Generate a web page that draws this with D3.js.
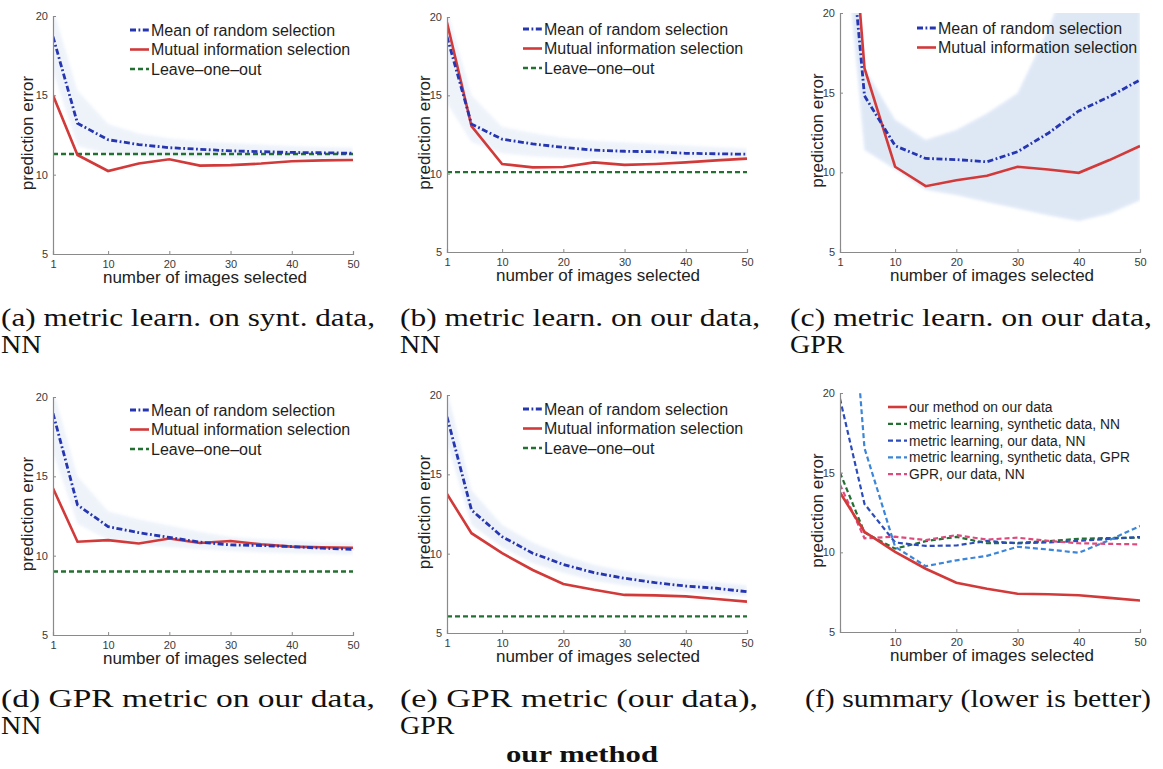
<!doctype html>
<html lang="en">
<head>
<meta charset="UTF-8">
<title>prediction error vs number of images selected</title>
<style>
    body { margin: 0; background: #fff; }
    svg { display: block; }
</style>
</head>
<body>
<div class="canvas"></div>
<script src="https://d3js.org/d3.v7.min.js"></script>
<script>
    // number of selected images, shared by every panel
    const xs = [1, 5, 10, 15, 20, 25, 30, 35, 40, 45, 50];
    const yTicks = [5, 10, 15, 20];

    // (a) metric learning on synthetic data, NN
    const aMean = [18.7, 13.24, 12.2, 11.9, 11.7, 11.6, 11.5, 11.45, 11.4, 11.38, 11.35];
    const aMI   = [15.0, 11.24, 10.23, 10.7, 10.97, 10.57, 10.6, 10.7, 10.85, 10.9, 10.92];
    const aLow  = [16.5, 11.8, 11.3, 11.2, 11.1, 11.05, 11.0, 11.0, 11.0, 11.0, 11.0];
    const aHigh = [20.5, 15.3, 13.2, 12.6, 12.3, 12.1, 12.0, 11.9, 11.8, 11.75, 11.7];
    const aLOO  = 11.3;

    // (b) metric learning on our data, NN
    const bMean = [18.74, 13.17, 12.2, 11.9, 11.68, 11.5, 11.43, 11.4, 11.3, 11.27, 11.24];
    const bMI   = [19.64, 13.04, 10.62, 10.4, 10.43, 10.72, 10.56, 10.62, 10.72, 10.85, 10.96];
    const bLow  = [14.5, 12.0, 11.3, 11.1, 11.0, 10.95, 10.9, 10.9, 10.9, 10.9, 10.9];
    const bHigh = [20.5, 15.0, 13.0, 12.6, 12.3, 12.1, 12.0, 11.9, 11.8, 11.7, 11.6];
    const bLOO  = 10.1;

    // (c) metric learning on our data, GPR
    const cMean = [31.6, 14.8, 11.67, 10.87, 10.8, 10.66, 11.29, 12.45, 13.85, 14.75, 15.8];
    const cMI   = [36, 16.54, 10.35, 9.13, 9.5, 9.78, 10.35, 10.18, 9.97, 10.77, 11.65];
    const cLow  = [28, 11.4, 10.2, 8.9, 8.57, 8.14, 7.73, 7.31, 6.95, 7.42, 8.25];
    const cHigh = [40, 16.5, 13.3, 12.03, 12.66, 13.7, 14.96, 18.95, 24, 26, 26];

    // (d) GPR metric on our data, NN
    const dMean = [18.97, 13.2, 11.83, 11.45, 11.15, 10.85, 10.68, 10.64, 10.57, 10.47, 10.4];
    const dMI   = [14.25, 10.88, 10.98, 10.77, 11.08, 10.8, 10.92, 10.72, 10.57, 10.53, 10.5];
    const dLow  = [16.5, 12.0, 11.0, 10.7, 10.55, 10.4, 10.3, 10.2, 10.15, 10.1, 10.05];
    const dHigh = [20.5, 15.0, 12.8, 12.3, 11.9, 11.5, 11.2, 11.05, 10.95, 10.85, 10.8];
    const dLOO  = 9.0;

    // (e) GPR metric (our data), GPR
    const eMean = [18.63, 12.75, 11.07, 10.03, 9.32, 8.8, 8.45, 8.17, 7.96, 7.82, 7.6];
    const eMI   = [13.76, 11.29, 10.03, 8.97, 8.09, 7.72, 7.4, 7.37, 7.31, 7.14, 6.98];
    const eLow  = [17, 11.8, 10.4, 9.4, 8.8, 8.3, 8.0, 7.75, 7.6, 7.45, 7.3];
    const eHigh = [20.3, 14.0, 11.8, 10.7, 9.9, 9.3, 8.9, 8.6, 8.35, 8.2, 8.0];
    const eLOO  = 6.05;

    const legendTop = ['Mean of random selection', 'Mutual information selection', 'Leave\u2013one\u2013out'];
    const legendSummary = [
        'our method on our data',
        'metric learning, synthetic data, NN',
        'metric learning, our data, NN',
        'metric learning, synthetic data, GPR',
        'GPR, our data, NN'
    ];

    const captions = [
        { lines: ['(a) metric learn. on synt. data,', 'NN'], x: 1, y: 326, w: 374 },
        { lines: ['(b) metric learn.  on our data,', 'NN'], x: 400, y: 326, w: 360 },
        { lines: ['(c) metric learn.  on our data,', 'GPR'], x: 790, y: 326, w: 362 },
        { lines: ['(d) GPR metric on our data,', 'NN'], x: 1, y: 707, w: 374 },
        { lines: ['(e) GPR metric (our data),', 'GPR'], x: 400, y: 707, w: 358 },
        { lines: ['(f) summary (lower is better)'], x: 805, y: 707, w: 346 }
    ];
    const groupTitle = 'our method';

    const RED = '#d23a3a', BLUE = '#2636b0', GREEN = '#237032';
    const SUM_BLUE = '#2c4cbc', SUM_LIGHT = '#3b86d8', SUM_PINK = '#de4a7c';
    const DASHDOT = '6,2.5,1.8,2.5';
    const DASH = '5,3';

    const svg = d3.select('.canvas').append('svg')
        .attr('width', 1163)
        .attr('height', 769);

    const defs = svg.append('defs');
    defs.append('filter').attr('id', 'soft')
        .append('feGaussianBlur').attr('stdDeviation', 1.8);

    const panels = [
        { id: 'a', left: 53, right: 353, top: 16, bottom: 254, mean: aMean, mi: aMI, low: aLow, high: aHigh, loo: aLOO,
          legend: { x: 130, y: 30, dy: 19.5 }, ylab: 28, xlab: 205, bandOpacity: 0.3 },
        { id: 'b', left: 447, right: 747, top: 17, bottom: 252, mean: bMean, mi: bMI, low: bLow, high: bHigh, loo: bLOO,
          legend: { x: 523, y: 29, dy: 19.5 }, ylab: 425, xlab: 598, bandOpacity: 0.3 },
        { id: 'c', left: 840, right: 1140, top: 13, bottom: 252, mean: cMean, mi: cMI, low: cLow, high: cHigh, loo: null,
          legend: { x: 917, y: 28, dy: 19.5 }, ylab: 818, xlab: 992, bandOpacity: 0.6 },
        { id: 'd', left: 53, right: 353, top: 397, bottom: 635, mean: dMean, mi: dMI, low: dLow, high: dHigh, loo: dLOO,
          legend: { x: 130, y: 410, dy: 19.5 }, ylab: 28, xlab: 205, bandOpacity: 0.3 },
        { id: 'e', left: 447, right: 747, top: 395, bottom: 633, mean: eMean, mi: eMI, low: eLow, high: eHigh, loo: eLOO,
          legend: { x: 523, y: 409, dy: 19.5 }, ylab: 425, xlab: 598, bandOpacity: 0.35 },
        { id: 'f', left: 840, right: 1140, top: 393, bottom: 632, summary: true,
          legend: { x: 888, y: 407, dy: 16.8 }, ylab: 818, xlab: 992 }
    ];

    const drawAxes = (p, x, y) => {
        const g = svg.append('g');
        const xTicks = p.summary ? [10, 20, 30, 40, 50] : [1, 10, 20, 30, 40, 50];

        const xAxis = d3.axisBottom(x).tickValues(xTicks).tickSize(-3).tickPadding(6);
        const yAxis = d3.axisLeft(y).tickValues(yTicks).tickSize(-3).tickPadding(4);

        const xg = g.append('g').attr('transform', `translate(0, ${p.bottom})`).call(xAxis);
        const yg = g.append('g').attr('transform', `translate(${p.left}, 0)`).call(yAxis);

        [xg, yg].forEach(a => {
            a.select('.domain').attr('stroke', '#8a8a8a').attr('stroke-width', 1.2);
            a.selectAll('.tick line').attr('stroke', '#8a8a8a');
            a.selectAll('.tick text')
                .attr('fill', '#3a3a3a')
                .style('font-family', 'Liberation Sans, Arial, sans-serif')
                .style('font-size', '11px');
        });
        yg.selectAll('.tick text').attr('dx', '-1');

        g.append('text')
            .attr('x', p.xlab)
            .attr('y', p.bottom + 29)
            .attr('text-anchor', 'middle')
            .attr('fill', '#222')
            .style('font-family', 'Liberation Sans, Arial, sans-serif')
            .style('font-size', '17px')
            .text('number of images selected');

        g.append('text')
            .attr('transform', `translate(${p.ylab + 5}, ${(p.top + p.bottom) / 2 - 2}) rotate(-90)`)
            .attr('text-anchor', 'middle')
            .attr('fill', '#222')
            .style('font-family', 'Liberation Sans, Arial, sans-serif')
            .style('font-size', '17px')
            .text('prediction error');
    };

    const drawLegend = (p, items, fontSize) => {
        const g = svg.append('g');
        items.forEach((it, i) => {
            const cy = p.legend.y + i * p.legend.dy;
            g.append('line')
                .attr('x1', p.legend.x).attr('x2', p.legend.x + 19)
                .attr('y1', cy).attr('y2', cy)
                .attr('stroke', it.color)
                .attr('stroke-width', it.width)
                .attr('stroke-dasharray', it.dash || null);
            g.append('text')
                .attr('x', p.legend.x + 21)
                .attr('y', cy + fontSize * 0.36)
                .attr('fill', '#1e1e1e')
                .style('font-family', 'Liberation Sans, Arial, sans-serif')
                .style('font-size', fontSize + 'px')
                .text(it.label);
        });
    };

    panels.forEach(p => {
        const x = d3.scaleLinear().domain([1, 50]).range([p.left, p.right]);
        const y = d3.scaleLinear().domain([5, 20]).range([p.bottom, p.top]);

        const clipId = 'clip-' + p.id;
        defs.append('clipPath').attr('id', clipId)
            .append('rect')
            .attr('x', p.left).attr('y', p.top)
            .attr('width', p.right - p.left).attr('height', p.bottom - p.top);

        const plot = svg.append('g').attr('clip-path', `url(#${clipId})`);

        const line = d3.line()
            .x((d, i) => x(xs[i]))
            .y(d => y(d));

        if (!p.summary) {
            const band = d3.area()
                .x((d, i) => x(xs[i]))
                .y0((d, i) => y(p.low[i]))
                .y1(d => y(d));

            plot.append('path')
                .datum(p.high)
                .attr('d', band)
                .attr('fill', '#c9d9f0')
                .attr('opacity', p.bandOpacity)
                .attr('filter', 'url(#soft)');

            if (p.loo !== null) {
                plot.append('path')
                    .datum(xs.map(() => p.loo))
                    .attr('d', line)
                    .attr('fill', 'none')
                    .attr('stroke', GREEN)
                    .attr('stroke-width', 2.4)
                    .attr('stroke-dasharray', DASH);
            }

            plot.append('path')
                .datum(p.mi)
                .attr('d', line)
                .attr('fill', 'none')
                .attr('stroke', RED)
                .attr('stroke-width', 2.6);

            plot.append('path')
                .datum(p.mean)
                .attr('d', line)
                .attr('fill', 'none')
                .attr('stroke', BLUE)
                .attr('stroke-width', 2.8)
                .attr('stroke-dasharray', DASHDOT);

            const items = [
                { label: legendTop[0], color: BLUE, width: 2.8, dash: DASHDOT },
                { label: legendTop[1], color: RED, width: 2.6 }
            ];
            if (p.loo !== null) items.push({ label: legendTop[2], color: GREEN, width: 2.4, dash: DASH });
            drawLegend(p, items, 16);
        } else {
            const series = [
                { data: eMI, color: RED, dash: null },
                { data: aMI, color: GREEN, dash: DASH },
                { data: bMI, color: SUM_BLUE, dash: DASH },
                { data: cMI, color: SUM_LIGHT, dash: DASH },
                { data: dMI, color: SUM_PINK, dash: DASH }
            ];
            // draw dashed ones first, red solid on top
            series.slice(1).concat(series.slice(0, 1)).forEach(s => {
                plot.append('path')
                    .datum(s.data)
                    .attr('d', line)
                    .attr('fill', 'none')
                    .attr('stroke', s.color)
                    .attr('stroke-width', s.dash ? 2.2 : 2.6)
                    .attr('stroke-dasharray', s.dash);
            });

            drawLegend(p, series.map((s, i) => ({
                label: legendSummary[i], color: s.color, width: s.dash ? 2.2 : 2.6, dash: s.dash
            })), 13.8);
        }

        drawAxes(p, x, y);
    });

    // captions under each panel (serif, stretched to the justified line width)
    const cap = svg.append('g')
        .style('font-family', '"Liberation Serif", "Times New Roman", serif')
        .style('font-size', '25px')
        .attr('fill', '#111');

    captions.forEach(c => {
        c.lines.forEach((t, i) => {
            const txt = cap.append('text')
                .attr('x', c.x)
                .attr('y', c.y + i * 27)
                .text(t);
            if (i === 0) {
                txt.attr('textLength', c.w).attr('lengthAdjust', 'spacingAndGlyphs');
            } else {
                txt.attr('transform', `translate(${c.x}, 0) scale(1.12, 1) translate(${-c.x}, 0)`);
            }
        });
    });

    cap.append('text')
        .attr('x', 582)
        .attr('y', 762)
        .attr('text-anchor', 'middle')
        .attr('textLength', 152)
        .attr('lengthAdjust', 'spacingAndGlyphs')
        .style('font-weight', 'bold')
        .style('font-size', '24px')
        .text(groupTitle);
</script>
</body>
</html>
